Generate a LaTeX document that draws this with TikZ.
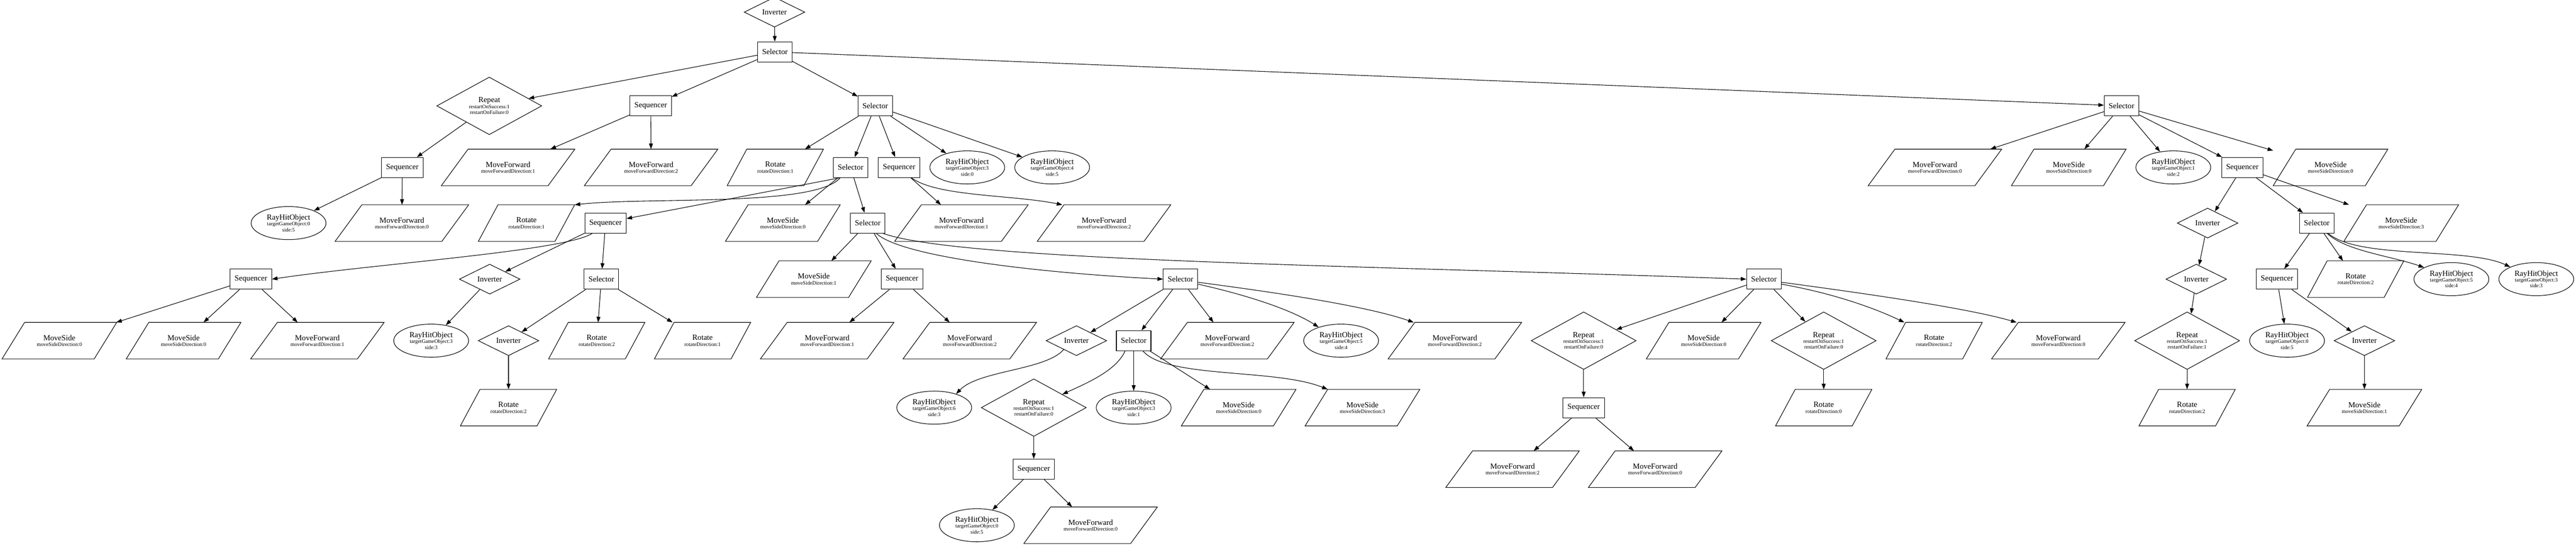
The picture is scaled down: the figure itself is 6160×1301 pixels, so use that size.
\documentclass[tikz,border=0pt]{standalone}
\usepackage{fontspec}
\setmainfont{Liberation Serif}
\usetikzlibrary{arrows.meta,shapes.geometric}
\newcommand{\sbt}[1]{{\fontsize{9.5pt}{10.5pt}\selectfont #1}}
\newcommand{\mfx}[1]{MoveForward\\\sbt{moveForwardDirection:#1}}
\newcommand{\msx}[1]{MoveSide\\\sbt{moveSideDirection:#1}}
\newcommand{\rotx}[1]{Rotate\\\sbt{rotateDirection:#1}}
\newcommand{\rayx}[2]{RayHitObject\\\sbt{targetGameObject:#1}\\\sbt{side:#2}}
\newcommand{\repx}[2]{Repeat\\\sbt{restartOnSuccess:#1}\\\sbt{restartOnFailure:#2}}
\tikzset{
  base/.style={draw, line width=1pt, inner sep=0pt, align=center, font=\fontsize{14pt}{10.5pt}\selectfont},
  boxnode/.style={base, rectangle, minimum height=36pt, inner xsep=8pt},
  invnode/.style={base, diamond, minimum width=108.75pt, minimum height=36pt},
  repnode/.style={base, diamond, minimum width=188.25pt, minimum height=84pt},
  raynode/.style={base, ellipse, minimum width=134.25pt, minimum height=59.25pt},
  pgram/.style n args={2}{base, draw=none, rectangle, minimum width=#1, minimum height=64.5pt,
    append after command={\pgfextra{\draw[line width=1pt, line join=miter] ([xshift=#2]\tikzlastnode.north west) -- (\tikzlastnode.north east) -- ([xshift=-#2]\tikzlastnode.south east) -- (\tikzlastnode.south west) -- cycle;}}},
  mfnode/.style={pgram={238.5pt}{48pt}},
  msnode/.style={pgram={204.75pt}{40.5pt}},
  rotnode/.style={pgram={171.75pt}{35.25pt}},
  link/.style={-{Triangle[length=10pt,width=7pt]}, line width=1pt},
}
\begin{document}
\begin{tikzpicture}[x=0.75pt, y=-0.75pt]
\fill[white] (0,0) rectangle (6160,1301);
\useasboundingbox (0,0) rectangle (6160,1301);
% rank 0-2
\node[invnode] (I0) at (1852,29) {Inverter};
\node[boxnode] (S0) at (1853,124) {Selector};
\node[repnode] (R1) at (1170,253) {\repx{1}{0}};
\node[boxnode] (B) at (1556,253) {Sequencer};
\node[boxnode] (C) at (2093,253) {Selector};
\node[boxnode] (D) at (5073,253) {Selector};
% rank 3
\node[boxnode] (E) at (962,400) {Sequencer};
\node[mfnode] (MFb1) at (1215,400) {\mfx{1}};
\node[mfnode] (MFb2) at (1557,400) {\mfx{2}};
\node[rotnode] (Rotc1) at (1854,400) {\rotx{1}};
\node[boxnode] (F) at (2034,400) {Selector};
\node[boxnode] (G) at (2150,400) {Sequencer};
\node[raynode] (RHc1) at (2313,400) {\rayx{3}{0}};
\node[raynode] (RHc2) at (2516,400) {\rayx{4}{5}};
\node[mfnode] (MFd0) at (4627,400) {\mfx{0}};
\node[msnode] (MSd0) at (4947,400) {\msx{0}};
\node[raynode] (RHd) at (5197,400) {\rayx{1}{2}};
\node[boxnode] (H) at (5362,400) {Sequencer};
\node[msnode] (MSd0b) at (5573,400) {\msx{0}};
% rank 4
\node[raynode] (RHe) at (690,533) {\rayx{0}{5}};
\node[mfnode] (MFe) at (961,533) {\mfx{0}};
\node[rotnode] (Rotf) at (1259,533) {\rotx{1}};
\node[boxnode] (I) at (1448,533) {Sequencer};
\node[msnode] (MSf) at (1872,533) {\msx{0}};
\node[boxnode] (J) at (2075,533) {Selector};
\node[mfnode] (MFg1) at (2299,533) {\mfx{1}};
\node[mfnode] (MFg2) at (2640,533) {\mfx{2}};
\node[invnode] (Invh) at (5279,533) {Inverter};
\node[boxnode] (Selh) at (5540,533) {Selector};
\node[msnode] (MSh) at (5742,533) {\msx{3}};
% rank 5
\node[boxnode] (K) at (600,667) {Sequencer};
\node[invnode] (M) at (1171,667) {Inverter};
\node[boxnode] (L) at (1438,667) {Selector};
\node[msnode] (MSj1) at (1946,667) {\msx{1}};
\node[boxnode] (N) at (2157,667) {Sequencer};
\node[boxnode] (P) at (2823,667) {Selector};
\node[boxnode] (Q) at (4218,667) {Selector};
\node[invnode] (Invh2) at (5252,667) {Inverter};
\node[boxnode] (Seqh) at (5445,667) {Sequencer};
\node[rotnode] (Roth2) at (5633,667) {\rotx{2}};
\node[raynode] (RHh1) at (5862,667) {\rayx{5}{4}};
\node[raynode] (RHh2) at (6065,667) {\rayx{3}{3}};
% rank 6
\node[msnode] (MSk1) at (142,814) {\msx{0}};
\node[msnode] (MSk2) at (439,814) {\msx{0}};
\node[mfnode] (MFk) at (759,814) {\mfx{1}};
\node[raynode] (RHm) at (1031,814) {\rayx{3}{3}};
\node[invnode] (Invl) at (1216,814) {Inverter};
\node[rotnode] (Rotl2) at (1427,814) {\rotx{2}};
\node[rotnode] (Rotl1) at (1680,814) {\rotx{1}};
\node[mfnode] (MFn1) at (1978,814) {\mfx{1}};
\node[mfnode] (MFn2) at (2319,814) {\mfx{2}};
\node[invnode] (Invp) at (2574,814) {Inverter};
\node[boxnode] (T) at (2711,814) {Selector};
\node[mfnode] (MFp1) at (2935,814) {\mfx{2}};
\node[raynode] (RHp) at (3207,814) {\rayx{5}{4}};
\node[mfnode] (MFp2) at (3479,814) {\mfx{2}};
\node[repnode] (Rpq1) at (3787,814) {\repx{1}{0}};
\node[msnode] (MSq) at (4074,814) {\msx{0}};
\node[repnode] (Rpq2) at (4361,814) {\repx{1}{0}};
\node[rotnode] (Rotq) at (4625,814) {\rotx{2}};
\node[mfnode] (MFq) at (4922,814) {\mfx{0}};
\node[repnode] (Rph) at (5230,814) {\repx{1}{1}};
\node[raynode] (RHhs) at (5469,814) {\rayx{0}{5}};
\node[invnode] (Invhs) at (5654,814) {Inverter};
% rank 7
\node[rotnode] (Rotinv) at (1216,974) {\rotx{2}};
\node[raynode] (RHpi) at (2234,974) {\rayx{6}{3}};
\node[repnode] (Rpt) at (2472,974) {\repx{1}{0}};
\node[raynode] (RHt) at (2711,974) {\rayx{3}{1}};
\node[msnode] (MSt1) at (2962,974) {\msx{0}};
\node[msnode] (MSt2) at (3258,974) {\msx{3}};
\node[boxnode] (Seqq1) at (3787,974) {Sequencer};
\node[rotnode] (Rotq2) at (4361,974) {\rotx{0}};
\node[rotnode] (Roth) at (5230,974) {\rotx{2}};
\node[msnode] (MShi) at (5654,974) {\msx{1}};
% rank 8
\node[boxnode] (Seqr) at (2472,1121) {Sequencer};
\node[mfnode] (MFq11) at (3617,1121) {\mfx{2}};
\node[mfnode] (MFq12) at (3958,1121) {\mfx{0}};
% rank 9
\node[raynode] (RHr) at (2336,1255) {\rayx{0}{5}};
\node[mfnode] (MFr) at (2608,1255) {\mfx{0}};
% straight connectors
\foreach \a/\b in {I0/S0, S0/R1, S0/B, S0/C, S0/D, R1/E, B/MFb1, B/MFb2, C/Rotc1, C/F, C/G, C/RHc1, C/RHc2,
  D/MFd0, D/MSd0, D/RHd, D/H, D/MSd0b, E/RHe, E/MFe, F/MSf, F/J, G/MFg1, H/Invh, H/Selh, H/MSh,
  I/M, I/L, J/MSj1, J/N, Invh/Invh2, Selh/Seqh, Selh/Roth2, K/MSk1, K/MSk2, K/MFk, M/RHm,
  L/Invl, L/Rotl2, L/Rotl1, N/MFn1, N/MFn2, P/Invp, P/T, P/MFp1, Q/Rpq1, Q/MSq, Q/Rpq2,
  Invh2/Rph, Seqh/RHhs, Seqh/Invhs, Invl/Rotinv, T/RHt, T/MSt1, Rpq1/Seqq1, Rpq2/Rotq2,
  Rph/Roth, Invhs/MShi, Rpt/Seqr, Seqq1/MFq11, Seqq1/MFq12, Seqr/RHr, Seqr/MFr}
  \draw[link] (\a) -- (\b);
% curved connectors
\draw[link] (F.225) .. controls (1950,495) and (1550,470) .. (Rotf.north east);
\draw[link] (F.225) -- (I.12);
\draw[link] (I.218) .. controls (1350,600) and (900,630) .. (K.east);
\draw[link] (G.320) .. controls (2240,470) and (2420,465) .. ([xshift=45pt]MFg2.north west);
\draw[link] (J.310) .. controls (2150,610) and (2450,650) .. (P.west);
\draw[link] (J.326) .. controls (2300,625) and (3300,635) .. (Q.west);
\draw[link] (P.344) .. controls (2960,700) and (3080,735) .. (RHp.149);
\draw[link] (P.350) .. controls (2980,690) and (3250,725) .. ([xshift=46pt]MFp2.north west);
\draw[link] (T.230) .. controls (2670,885) and (2600,915) .. (Rpt.25);
\draw[link] (T.312) .. controls (2790,905) and (3050,880) .. ([xshift=40.5pt]MSt2.north west);
\draw[link] (Invp.215) .. controls (2500,885) and (2340,885) .. (RHpi.32);
\draw[link] (Q.344) .. controls (4380,700) and (4480,735) .. ([xshift=33pt]Rotq.north west);
\draw[link] (Q.350) .. controls (4450,700) and (4700,735) .. ([xshift=45pt]MFq.north west);
\draw[link] (Selh.315) .. controls (5610,600) and (5720,612) .. (RHh1.157);
\draw[link] (Selh.318) .. controls (5640,620) and (5900,590) .. (RHh2.155);
\end{tikzpicture}
\end{document}
